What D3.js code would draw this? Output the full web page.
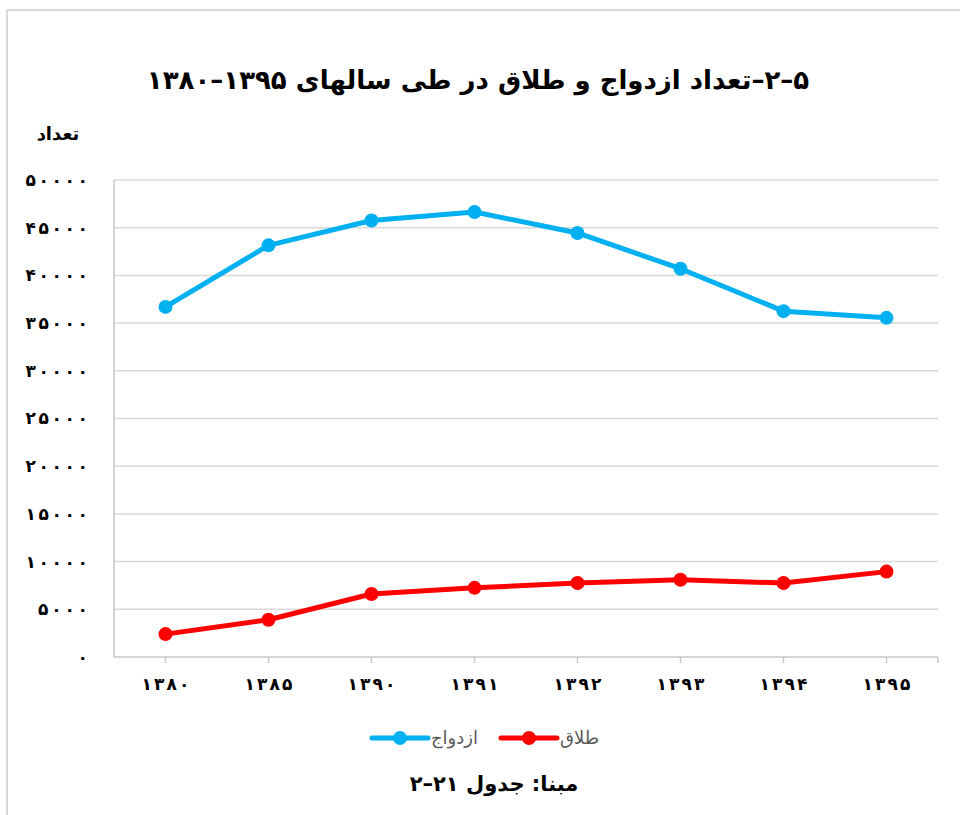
<!DOCTYPE html>
<html>
<head>
<meta charset="utf-8">
<script src="https://cdn.jsdelivr.net/npm/d3@7"></script>
<style>
  body { margin: 0; background: #fff; }
  text { font-family: "DejaVu Sans", sans-serif; }
</style>
</head>
<body>
<div id="chart"></div>
<script>
const years = ['۱۳۸۰', '۱۳۸۵', '۱۳۹۰', '۱۳۹۱', '۱۳۹۲', '۱۳۹۳', '۱۳۹۴', '۱۳۹۵'];
const marriage = [36700, 43150, 45750, 46650, 44450, 40700, 36250, 35550];
const divorce = [2400, 3900, 6600, 7250, 7750, 8100, 7750, 8950];
const yTicks = [0, 5000, 10000, 15000, 20000, 25000, 30000, 35000, 40000, 45000, 50000];
const seriesNames = ['ازدواج', 'طلاق'];
const seriesColors = ['#00b0f0', '#ff0000'];

const W = 960, H = 815;
const margin = { top: 180, right: 22, bottom: 158, left: 114 };
const width = W - margin.left - margin.right;
const height = H - margin.top - margin.bottom;

const faDigits = s => String(s).replace(/\d/g, d => '۰۱۲۳۴۵۶۷۸۹'[d]);

const svg = d3.select('#chart').append('svg')
  .attr('width', W)
  .attr('height', H);

// outer frame
svg.append('rect')
  .attr('x', 7).attr('y', 10)
  .attr('width', W).attr('height', H)
  .attr('fill', 'none')
  .attr('stroke', '#d9d9d9')
  .attr('stroke-width', 2);

const g = svg.append('g')
  .attr('transform', `translate(${margin.left},${margin.top})`);

const x = d3.scaleBand().domain(years).range([0, width]);
const y = d3.scaleLinear().domain([0, 50000]).range([height, 0]);

// gridlines
g.selectAll('.grid')
  .data(yTicks.filter(d => d > 0))
  .enter().append('line')
  .attr('x1', 0).attr('x2', width)
  .attr('y1', d => y(d)).attr('y2', d => y(d))
  .attr('stroke', '#d9d9d9')
  .attr('stroke-width', 1.5);

// left axis line
g.append('line')
  .attr('x1', 0).attr('x2', 0)
  .attr('y1', 0).attr('y2', height)
  .attr('stroke', '#c8c8c8').attr('stroke-width', 1.5);

// y labels, spread wide like the original (letter-spacing is ignored for arabic digits)
g.selectAll('.ylab')
  .data(yTicks)
  .enter().append('text')
  .attr('x', -26)
  .attr('y', d => y(d))
  .attr('dy', '0.35em')
  .attr('text-anchor', 'end')
  .attr('font-size', 17)
  .attr('font-weight', 'bold')
  .attr('fill', '#000')
  .each(function (d) {
    const n = String(d).length;
    if (n > 1) d3.select(this).attr('textLength', 12.5 * n).attr('lengthAdjust', 'spacing');
  })
  .text(d => faDigits(d));

// x axis
const xAxis = g.append('g')
  .attr('transform', `translate(0,${height})`)
  .call(d3.axisBottom(x).tickSizeOuter(0).tickSize(6).tickPadding(15).tickFormat(d => d));
xAxis.select('.domain').remove();
xAxis.append('line')
  .attr('x1', 0).attr('x2', width)
  .attr('stroke', '#c8c8c8').attr('stroke-width', 1.5);
xAxis.append('line')
  .attr('x1', width).attr('x2', width).attr('y1', 0).attr('y2', 6)
  .attr('stroke', '#c8c8c8').attr('stroke-width', 1.5);
xAxis.selectAll('.tick line').attr('stroke', '#c8c8c8').attr('stroke-width', 1.5);
xAxis.selectAll('.tick text')
  .attr('font-family', '"DejaVu Sans", sans-serif')
  .attr('font-size', 17)
  .attr('font-weight', 'bold')
  .attr('textLength', 48)
  .attr('lengthAdjust', 'spacing')
  .attr('fill', '#000');

// lines
const line = d3.line()
  .x((d, i) => x(years[i]) + x.bandwidth() / 2)
  .y(d => y(d));

[marriage, divorce].forEach((data, k) => {
  g.append('path')
    .datum(data)
    .attr('fill', 'none')
    .attr('stroke', seriesColors[k])
    .attr('stroke-width', 5)
    .attr('stroke-linejoin', 'round')
    .attr('d', line);
  g.selectAll('.pt' + k)
    .data(data)
    .enter().append('circle')
    .attr('cx', (d, i) => x(years[i]) + x.bandwidth() / 2)
    .attr('cy', d => y(d))
    .attr('r', 7)
    .attr('fill', seriesColors[k]);
});

// title
svg.append('text')
  .attr('x', 478).attr('y', 80)
  .attr('dy', '0.35em')
  .attr('text-anchor', 'middle')
  .attr('direction', 'rtl')
  .attr('font-size', 26)
  .attr('font-weight', 'bold')
  .attr('fill', '#000')
  .text('۵–۲–تعداد ازدواج و طلاق در طی سالهای ۱۳۹۵–۱۳۸۰');

// y axis title
svg.append('text')
  .attr('x', 58).attr('y', 134)
  .attr('dy', '0.35em')
  .attr('text-anchor', 'middle')
  .attr('direction', 'rtl')
  .attr('font-size', 18)
  .attr('font-weight', 'bold')
  .attr('fill', '#000')
  .text('تعداد');

// legend
const legendItems = [
  { name: seriesNames[0], color: seriesColors[0], x0: 372 },
  { name: seriesNames[1], color: seriesColors[1], x0: 501 }
];
const legend = svg.append('g').attr('transform', 'translate(0,738)');
legendItems.forEach(it => {
  legend.append('line')
    .attr('x1', it.x0).attr('x2', it.x0 + 56)
    .attr('stroke', it.color).attr('stroke-width', 5)
    .attr('stroke-linecap', 'round');
  legend.append('circle')
    .attr('cx', it.x0 + 28).attr('r', 7)
    .attr('fill', it.color);
  legend.append('text')
    .attr('x', it.x0 + 59)
    .attr('dy', '0.35em')
    .attr('text-anchor', 'start')
    .attr('font-size', 18)
    .attr('fill', '#595959')
    .text(it.name);
});

// source
svg.append('text')
  .attr('x', 494).attr('y', 784)
  .attr('dy', '0.35em')
  .attr('text-anchor', 'middle')
  .attr('direction', 'rtl')
  .attr('font-size', 21)
  .attr('font-weight', 'bold')
  .attr('fill', '#000')
  .text('مبنا: جدول ۲۱–۲');
</script>
</body>
</html>
